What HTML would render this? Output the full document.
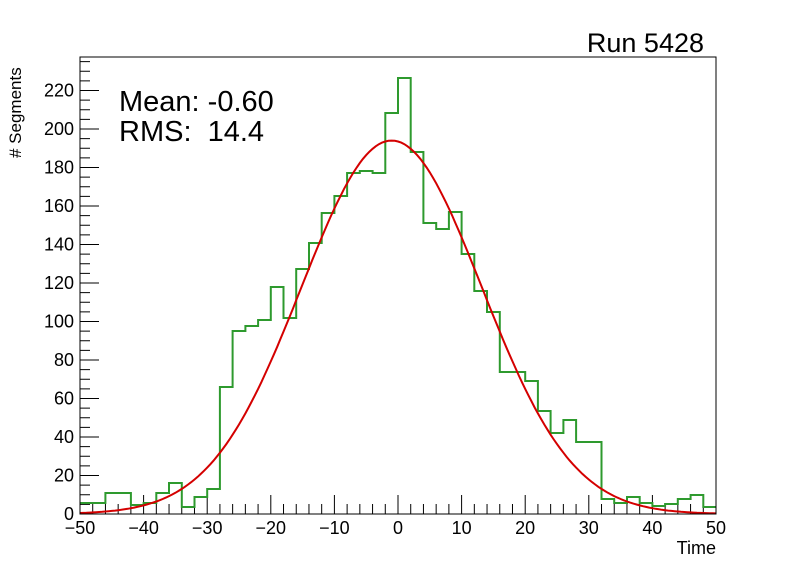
<!DOCTYPE html>
<html><head><meta charset="utf-8"><style>
html,body{margin:0;padding:0;background:#fff;}
svg{display:block;font-family:"Liberation Sans",sans-serif;}
</style></head><body>
<svg id="s" width="796" height="572" xmlns="http://www.w3.org/2000/svg">
<rect width="796" height="572" fill="#fff"/>
<g id="g"></g>
<rect x="80" y="57" width="636" height="457" fill="none" stroke="#000" stroke-width="1"/>
<text x="704" y="52" font-size="27" text-anchor="end">Run 5428</text>
<text x="119" y="111" font-size="29">Mean: -0.60</text>
<text x="119" y="141" font-size="29">RMS:&#160; 14.4</text>
<text x="716" y="554" font-size="18" text-anchor="end">Time</text>
<text transform="translate(21,158) rotate(-90)" font-size="17" text-anchor="start"># Segments</text>
</svg>
<script>
var g=document.getElementById('g'),h="";
function X(v){return 80+(v+50)*6.36;}
function Y(v){return 514-v*1.925;}
for(var v=-50;v<=50;v+=2){var maj=v%10==0;h+='<line x1="'+X(v)+'" x2="'+X(v)+'" y1="514" y2="'+(514-(maj?19:10))+'" stroke="#000"/>';
 if(maj)h+='<text x="'+X(v)+'" y="534" font-size="18" text-anchor="middle">'+(v<0?'\u2212'+(-v):v)+'</text>';}
for(var v=0;v<=235;v+=5){var maj=v%20==0;h+='<line x1="80" x2="'+(80+(maj?19:10))+'" y1="'+Y(v)+'" y2="'+Y(v)+'" stroke="#000"/>';
 if(maj)h+='<text x="74" y="'+(Y(v)+6)+'" font-size="18" text-anchor="end">'+v+'</text>';}
var ys=[503,503,493,493,505,503,493,483,507,497,489,387,331,326,320,287,318,269,243,213,196,173,171,173,113,78,152,223,229,212,254,291,312,372,372,381,411,433,420,442,442,499,503,497,503,506,504,499,495,507];
var d="M80 "+ys[0];
for(var i=0;i<50;i++){var x0=X(-50+2*i),x1=X(-48+2*i);d+=" L"+x0.toFixed(1)+" "+ys[i]+" L"+x1.toFixed(1)+" "+ys[i];}
h+='<path d="'+d+'" fill="none" stroke="#2e9a2e" stroke-width="2"/>';
var c="";for(var v=-50;v<=50;v+=0.5){var y=194*Math.exp(-Math.pow(v+1,2)/(2*14.2*14.2));c+=(c?" L":"M")+X(v).toFixed(1)+" "+Y(y).toFixed(1);}
h+='<path d="'+c+'" fill="none" stroke="#d40000" stroke-width="2"/>';
g.innerHTML=h;
</script>
</body></html>
